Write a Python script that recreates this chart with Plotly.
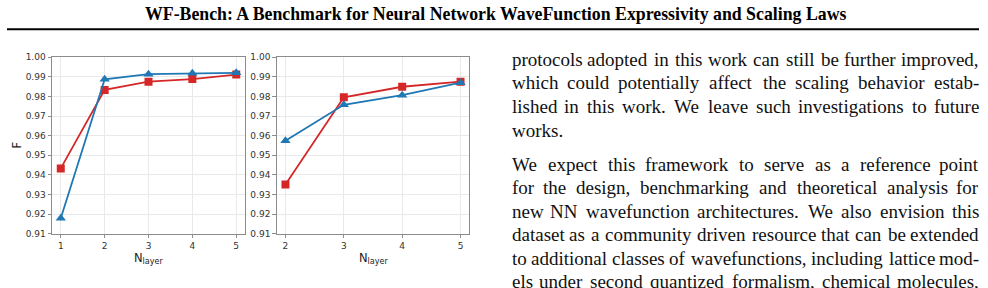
import plotly.graph_objects as go

# ---------------- data ----------------
n_layer_a = [1, 2, 3, 4, 5]
f_red_a = [0.9433, 0.9833, 0.9875, 0.9888, 0.9911]
f_blue_a = [0.9179, 0.9887, 0.9913, 0.9918, 0.9920]

n_layer_b = [2, 3, 4, 5]
f_red_b = [0.9351, 0.9795, 0.9849, 0.9875]
f_blue_b = [0.9574, 0.9757, 0.9806, 0.9870]

y_ticks = [0.91, 0.92, 0.93, 0.94, 0.95, 0.96, 0.97, 0.98, 0.99, 1.00]

header_text = "WF-Bench: A Benchmark for Neural Network WaveFunction Expressivity and Scaling Laws"

para_lines = [
    "protocols adopted in this work can still be further improved,",
    "which could potentially affect the scaling behavior estab-",
    "lished in this work. We leave such investigations to future",
    "works.",
    "We expect this framework to serve as a reference point",
    "for the design, benchmarking and theoretical analysis for",
    "new NN wavefunction architectures. We also envision this",
    "dataset as a community driven resource that can be extended",
    "to additional classes of wavefunctions, including lattice mod-",
    "els under second quantized formalism, chemical molecules,",
]
para_justify = [True, True, True, False, True, True, True, True, True, True]
para_centers = [58.5, 83.0, 107.5, 132.0, 167.0, 191.4, 215.8, 240.2, 264.6, 289.0]

# ---------------- layout constants ----------------
W, H = 988, 288
RED = "#d62728"
BLUE = "#1f77b4"
SPINE = "#8c8c8c"
GRID = "#e9e9e9"
TICKFONT = dict(family="DejaVu Sans", size=9, color="#333333")


def px_x(x):
    return x / W


def px_y(y):
    return 1 - y / H


fig = go.Figure()

for xa, ya, xs, red, blue in [("x", "y", n_layer_a, f_red_a, f_blue_a),
                              ("x2", "y2", n_layer_b, f_red_b, f_blue_b)]:
    fig.add_trace(go.Scatter(
        x=xs, y=red, xaxis=xa, yaxis=ya, mode="lines+markers",
        line=dict(color=RED, width=1.8),
        marker=dict(symbol="square", size=8, color=RED, line=dict(width=0)),
        showlegend=False))
    fig.add_trace(go.Scatter(
        x=xs, y=blue, xaxis=xa, yaxis=ya, mode="lines+markers",
        line=dict(color=BLUE, width=1.8),
        marker=dict(symbol="triangle-up", size=9, color=BLUE, line=dict(width=0)),
        showlegend=False))

axis_common = dict(
    showline=True, mirror=True, linecolor=SPINE, linewidth=1,
    ticks="outside", ticklen=3.5, tickwidth=1, tickcolor=SPINE,
    showgrid=True, gridcolor=GRID, gridwidth=1,
    zeroline=False, tickfont=TICKFONT,
)

fig.update_layout(
    width=W, height=H,
    margin=dict(l=0, r=0, t=0, b=0),
    paper_bgcolor="white", plot_bgcolor="white",
    xaxis=dict(domain=[px_x(52), px_x(245)], anchor="y", range=[0.8, 5.2],
               tickvals=n_layer_a, **axis_common),
    yaxis=dict(domain=[px_y(237), px_y(54)], anchor="x", range=[0.91, 1.00],
               tickvals=y_ticks, tickformat=".2f", **axis_common),
    xaxis2=dict(domain=[px_x(276.7), px_x(469.3)], anchor="y2", range=[1.85, 5.15],
                tickvals=n_layer_b, **axis_common),
    yaxis2=dict(domain=[px_y(237), px_y(54)], anchor="x2", range=[0.91, 1.00],
                tickvals=y_ticks, tickformat=".2f", **axis_common),
)

annotations = []
# axis titles
AXFONT = dict(family="DejaVu Sans", size=11.5, color="#222222")
for cx in [(52 + 245) / 2, (276.7 + 469.3) / 2]:
    annotations.append(dict(text="N<sub>layer</sub>", x=px_x(cx), y=px_y(262.5),
                            xref="paper", yref="paper", xanchor="center", yanchor="middle",
                            showarrow=False, font=AXFONT, borderpad=0))
annotations.append(dict(text="F", x=px_x(17), y=px_y(145.5), xref="paper", yref="paper",
                        xanchor="center", yanchor="middle", textangle=-90,
                        showarrow=False, font=AXFONT, borderpad=0))

# header
annotations.append(dict(text="<b>" + header_text + "</b>", x=px_x(495), y=px_y(9.5),
                        xref="paper", yref="paper", xanchor="center", yanchor="middle",
                        showarrow=False, borderpad=0,
                        font=dict(family="Liberation Serif", size=17.8, color="black")))

# justified body text (word by word, each word centred on its computed slot)
TIMES_W = {' ': 250, 'a': 444, 'b': 500, 'c': 444, 'd': 500, 'e': 444, 'f': 333, 'g': 500,
           'h': 500, 'i': 278, 'j': 278, 'k': 500, 'l': 278, 'm': 778, 'n': 500, 'o': 500,
           'p': 500, 'q': 500, 'r': 333, 's': 389, 't': 278, 'u': 500, 'v': 500, 'w': 722,
           'x': 500, 'y': 500, 'z': 444, 'N': 722, 'W': 944, ',': 250, '.': 250, '-': 333}
BODY_SIZE = 19
BODY_FONT = dict(family="Liberation Serif", size=BODY_SIZE, color="#111111")
LEFT, RIGHT = 511, 980


def word_w(wd):
    return sum(TIMES_W.get(c, 500) for c in wd) * BODY_SIZE / 1000.0


for line, just, cy in zip(para_lines, para_justify, para_centers):
    ybox = px_y(cy - 2.2)
    if not just:
        annotations.append(dict(text=line, x=px_x(LEFT), y=ybox, xref="paper", yref="paper",
                                xanchor="left", yanchor="middle", showarrow=False,
                                borderpad=0, font=BODY_FONT))
        continue
    words = line.split(" ")
    widths = [word_w(w_) for w_ in words]
    gap = (RIGHT - LEFT - sum(widths)) / (len(words) - 1)
    xpos = LEFT
    for i, (wd, ww) in enumerate(zip(words, widths)):
        if i == 0:
            x, anchor = xpos, "left"
        elif i == len(words) - 1:
            x, anchor = RIGHT, "right"
        else:
            x, anchor = xpos + ww / 2, "center"
        annotations.append(dict(text=wd, x=px_x(x), y=ybox, xref="paper", yref="paper",
                                xanchor=anchor, yanchor="middle", showarrow=False,
                                borderpad=0, font=BODY_FONT))
        xpos += ww + gap

fig.update_layout(annotations=annotations)

# header rule
fig.add_shape(type="line", xref="paper", yref="paper",
              x0=px_x(7), x1=px_x(979), y0=px_y(25), y1=px_y(25),
              line=dict(color="black", width=2))

fig.write_html("out.html")
